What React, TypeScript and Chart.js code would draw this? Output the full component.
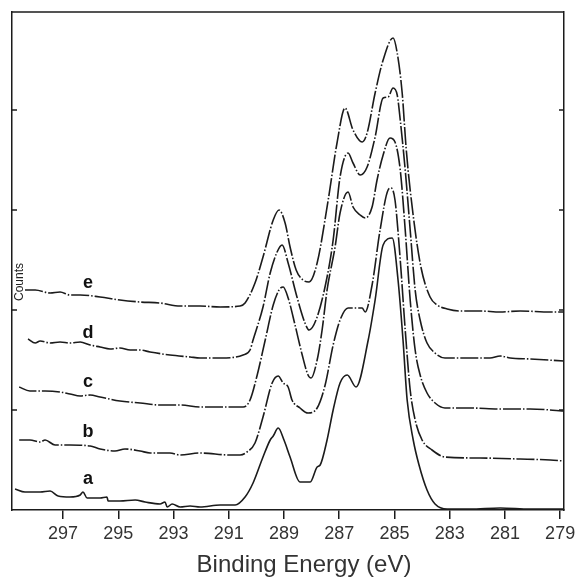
import React, { useEffect, useRef } from "react";
import { Chart, registerables } from "chart.js";

Chart.register(...registerables);

// ---- data (binding energy in eV, counts in arbitrary offset units) ----
const xTickValues = [279, 281, 283, 285, 287, 289, 291, 293, 295, 297];
const yTickValues = [100, 200, 300, 400];
const curveNames = ["a", "b", "c", "d", "e"];
const labelEnergy = 296.1;
const labelCounts = [26, 73, 123, 172, 222];

const energyA = [298.74, 298.38, 297.83, 297.47, 297.18, 296.75, 296.38, 296.28, 296.13, 295.66, 295.41, 295.37, 294.94, 294.39, 294.03, 293.49, 293.31, 293.23, 293.05, 292.76, 292.4, 292.04, 291.31, 290.77, 290.41, 290.12, 289.76, 289.5, 289.39, 289.21, 289.0, 288.78, 288.42, 288.05, 287.8, 287.69, 287.44, 287.22, 286.97, 286.71, 286.39, 285.95, 285.7, 285.41, 285.08, 284.87, 284.69, 284.54, 284.32, 284.11, 283.82, 283.53, 283.09, 282.26, 281.17, 280.09, 278.86];
const countsA = [21, 18, 18, 19, 14, 13, 15, 18, 12, 12, 13, 9, 9, 10, 8, 6, 8, 3, 6, 3, 4, 3, 5, 5, 13, 27, 53, 70, 74, 82, 70, 53, 28, 28, 43, 45, 70, 100, 127, 135, 123, 170, 210, 265, 272, 230, 170, 110, 70, 45, 20, 6, 1, 1, 2, 1, 1];

const energyB = [298.59, 298.2, 297.83, 297.65, 297.29, 296.75, 296.02, 295.66, 295.12, 294.76, 294.21, 293.85, 293.13, 292.76, 292.04, 290.95, 290.59, 290.34, 290.05, 289.76, 289.43, 289.21, 289.03, 288.85, 288.71, 288.42, 288.13, 287.8, 287.51, 287.22, 286.97, 286.68, 286.17, 286.06, 285.81, 285.52, 285.23, 285.12, 284.98, 284.79, 284.61, 284.43, 284.25, 284.0, 283.64, 283.17, 281.9, 280.45, 279.36, 278.86];
const countsB = [70, 70, 68, 70, 65, 65, 64, 61, 59, 61, 59, 57, 57, 55, 57, 55, 55, 58, 67, 93, 127, 134, 127, 123, 110, 102, 97, 102, 125, 165, 190, 202, 202, 198, 225, 280, 320, 322, 310, 250, 180, 120, 90, 70, 60, 53, 52, 51, 50, 49];

const energyC = [298.59, 298.2, 297.65, 297.11, 296.75, 296.38, 296.02, 295.66, 294.94, 294.21, 293.49, 292.76, 292.04, 290.95, 290.48, 290.23, 289.97, 289.68, 289.39, 289.18, 289.03, 288.85, 288.6, 288.34, 288.13, 288.02, 287.8, 287.62, 287.44, 287.15, 286.97, 286.68, 286.5, 286.24, 286.06, 285.81, 285.63, 285.41, 285.16, 284.98, 284.79, 284.61, 284.43, 284.25, 284.07, 283.82, 283.53, 283.17, 282.26, 281.17, 280.09, 278.86];
const countsC = [123, 119, 119, 118, 116, 114, 115, 113, 109, 107, 105, 105, 103, 103, 103, 110, 135, 170, 205, 220, 223, 212, 185, 155, 135, 132, 150, 180, 220, 263, 297, 318, 303, 295, 292, 303, 330, 355, 372, 368, 340, 280, 210, 160, 135, 117, 107, 102, 102, 101, 101, 99];

const energyD = [298.27, 298.01, 297.83, 297.47, 297.11, 296.75, 296.38, 296.02, 295.66, 295.3, 294.94, 294.57, 294.21, 293.85, 293.13, 292.4, 292.04, 291.31, 290.48, 290.23, 290.12, 289.76, 289.5, 289.25, 289.07, 288.85, 288.53, 288.24, 288.09, 287.8, 287.44, 287.22, 286.97, 286.68, 286.5, 286.24, 285.99, 285.7, 285.41, 285.23, 285.05, 284.9, 284.79, 284.61, 284.43, 284.25, 284.07, 283.82, 283.53, 283.17, 282.26, 281.54, 281.17, 280.81, 280.09, 278.86];
const countsD = [171, 167, 169, 167, 168, 167, 168, 165, 163, 161, 162, 160, 160, 158, 155, 153, 152, 152, 155, 160, 170, 203, 237, 258, 265, 247, 213, 187, 180, 193, 233, 270, 333, 357, 347, 335, 343, 373, 412, 413, 422, 415, 390, 340, 280, 220, 190, 167, 157, 152, 152, 152, 154, 152, 151, 149];

const energyE = [298.38, 298.01, 297.47, 297.11, 296.75, 296.38, 295.66, 294.94, 294.21, 293.49, 292.76, 292.04, 291.31, 290.59, 290.41, 290.05, 289.76, 289.39, 289.18, 288.96, 288.78, 288.56, 288.31, 288.09, 287.8, 287.4, 287.08, 286.79, 286.5, 286.17, 285.99, 285.7, 285.41, 285.05, 284.9, 284.72, 284.58, 284.43, 284.07, 283.71, 283.45, 283.09, 282.62, 281.9, 281.17, 280.45, 279.36, 278.86];
const countsE = [220, 220, 217, 218, 215, 215, 213, 210, 208, 207, 204, 204, 203, 204, 207, 227, 253, 290, 300, 287, 263, 240, 230, 228, 247, 310, 367, 402, 380, 368, 377, 417, 450, 472, 457, 417, 363, 320, 247, 213, 205, 201, 199, 199, 198, 199, 198, 198];

const seriesEnergies = [energyA, energyB, energyC, energyD, energyE];
const seriesCounts = [countsA, countsB, countsC, countsD, countsE];

const FONT = "'Liberation Sans', Arial, Helvetica, sans-serif";
const INK = "#1b1b1b";

const decorPlugin = {
  id: "decor",
  afterDraw(chart: any) {
    const { ctx, chartArea: ca, scales } = chart;
    const xs = scales.x;
    const ys = scales.y;
    ctx.save();
    ctx.strokeStyle = INK;
    ctx.lineWidth = 1.5;
    ctx.beginPath();
    ctx.moveTo(ca.left, ca.top);
    ctx.lineTo(ca.right, ca.top);
    ctx.stroke();
    ctx.beginPath();
    yTickValues.forEach((v) => {
      const py = ys.getPixelForValue(v);
      ctx.moveTo(ca.left, py);
      ctx.lineTo(ca.left + 5, py);
      ctx.moveTo(ca.right, py);
      ctx.lineTo(ca.right - 5, py);
    });
    ctx.stroke();

    ctx.fillStyle = "#111";
    ctx.font = `bold 18px ${FONT}`;
    ctx.textAlign = "center";
    ctx.textBaseline = "alphabetic";
    curveNames.forEach((n, i) => {
      ctx.fillText(n, xs.getPixelForValue(labelEnergy), ys.getPixelForValue(labelCounts[i]));
    });

    ctx.save();
    ctx.translate(ca.left + 10.5, ys.getPixelForValue(228));
    ctx.rotate(-Math.PI / 2);
    ctx.font = `12px ${FONT}`;
    ctx.fillStyle = "#222";
    ctx.textAlign = "center";
    ctx.fillText("Counts", 0, 0);
    ctx.restore();

    ctx.font = `24px ${FONT}`;
    ctx.fillStyle = "#333";
    ctx.textAlign = "center";
    ctx.fillText("Binding Energy (eV)", (ca.left + ca.right) / 2 + 16, 572);
    ctx.restore();
  },
};

export default function App() {
  const canvasRef = useRef<HTMLCanvasElement | null>(null);

  useEffect(() => {
    if (!canvasRef.current) return;
    const datasets = curveNames.map((name, i) => ({
      label: name,
      data: seriesEnergies[i].map((e, j) => ({ x: e, y: seriesCounts[i][j] })),
      borderColor: INK,
      borderWidth: 1.6,
      borderDash: i === 0 ? [] : [18, 2, 1.5, 2],
      pointRadius: 0,
      cubicInterpolationMode: "monotone" as const,
      fill: false,
    }));
    const chart = new Chart(canvasRef.current, {
      type: "line",
      data: { datasets },
      plugins: [decorPlugin],
      options: {
        animation: false,
        responsive: true,
        maintainAspectRatio: false,
        layout: { padding: { left: 12, top: 12, right: 12, bottom: 0 } },
        plugins: { legend: { display: false }, tooltip: { enabled: false } },
        scales: {
          x: {
            type: "linear",
            position: "bottom",
            reverse: true,
            min: 278.86,
            max: 298.85,
            afterFit: (s: any) => {
              s.height = 72;
            },
            afterBuildTicks: (s: any) => {
              s.ticks = xTickValues.map((v) => ({ value: v }));
            },
            ticks: {
              autoSkip: false,
              maxRotation: 0,
              padding: 4,
              color: "#333",
              font: { size: 18, family: FONT },
              callback: (v: any) => String(v),
            },
            grid: { drawOnChartArea: false, drawTicks: true, tickLength: 9, color: INK, lineWidth: 1.5 },
            border: { display: true, color: INK, width: 1.5 },
          },
          y: {
            type: "linear",
            position: "left",
            min: 0,
            max: 498,
            afterFit: (s: any) => {
              s.width = 0;
            },
            ticks: { display: false },
            grid: { display: false },
            border: { display: true, color: INK, width: 1.5 },
          },
          y2: {
            type: "linear",
            position: "right",
            min: 0,
            max: 498,
            afterFit: (s: any) => {
              s.width = 0;
            },
            ticks: { display: false },
            grid: { display: false },
            border: { display: true, color: INK, width: 1.5 },
          },
        },
      },
    });
    return () => chart.destroy();
  }, []);

  return (
    <div style={{ position: "fixed", left: 0, top: 0, width: 576, height: 582, background: "#fff" }}>
      <canvas ref={canvasRef} />
    </div>
  );
}
